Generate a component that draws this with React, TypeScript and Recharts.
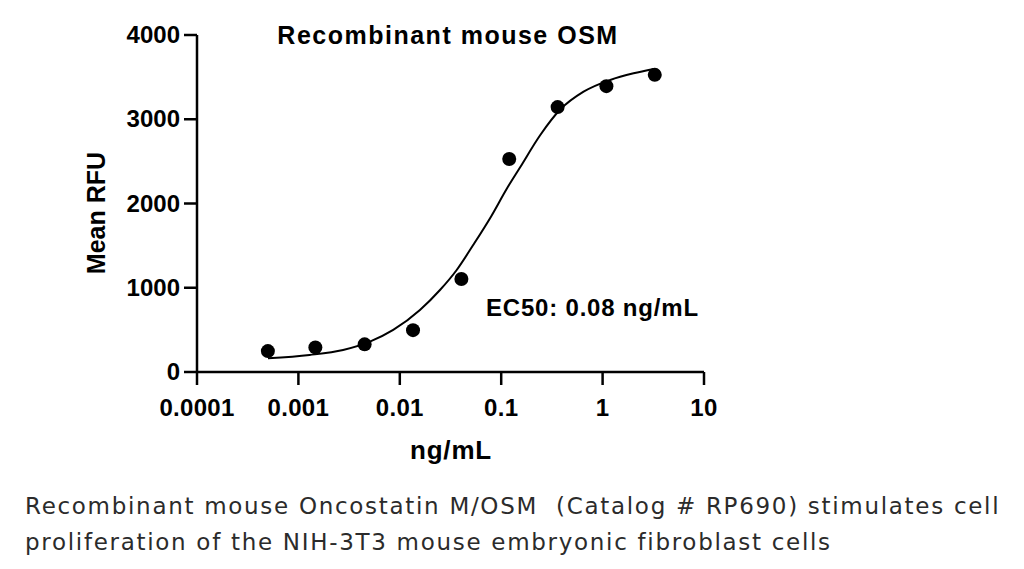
import { ComposedChart, Line, Scatter, XAxis, YAxis } from "recharts";

// measured points (ng/mL vs mean RFU)
const doses = [0.0005, 0.00147, 0.0045, 0.0135, 0.0405, 0.12, 0.36, 1.09, 3.27];
const meanRfu = [248, 292, 328, 497, 1104, 2529, 3144, 3393, 3527];

// fitted curve
const fitDoses = [
  0.000501, 0.00129, 0.00276, 0.00507, 0.00861, 0.0158, 0.0249, 0.0364, 0.0531,
  0.0798, 0.1135, 0.1538, 0.242, 0.382, 0.649, 1.19, 2.02, 3.19,
];
const fitRfu = [
  163, 202, 261, 360, 499, 736, 973, 1211, 1510, 1850, 2175, 2430, 2810, 3115,
  3327, 3466, 3545, 3596,
];

const xTicks = [0.0001, 0.001, 0.01, 0.1, 1, 10];
const xTickLabels = ["0.0001", "0.001", "0.01", "0.1", "1", "10"];
const yTicks = [0, 1000, 2000, 3000, 4000];

const points = doses.map((x, i) => ({ x, y: meanRfu[i] }));
const curve = fitDoses.map((x, i) => ({ x, y: fitRfu[i] }));

const FONT = "'Liberation Sans', Arial, sans-serif";

function Dot(props: any) {
  return <circle cx={props.cx} cy={props.cy} r={7} fill="#000" />;
}

function XTick({ x, y, payload }: any) {
  const i = xTicks.indexOf(payload.value);
  return (
    <text x={x} y={y + 27} textAnchor="middle" fontSize={24} fontWeight={700} letterSpacing={0.3} fill="#000" fontFamily={FONT}>
      {i >= 0 ? xTickLabels[i] : String(payload.value)}
    </text>
  );
}

function YTick({ x, y, payload }: any) {
  return (
    <text x={x} y={y + 8} textAnchor="end" fontSize={24} fontWeight={700} fill="#000" fontFamily={FONT}>
      {payload.value}
    </text>
  );
}

export default function App() {
  const axisStyle = { stroke: "#000", strokeWidth: 2.5 };
  return (
    <div style={{ position: "absolute", left: 0, top: 0, width: 1024, height: 569, background: "#fff" }}>
      <ComposedChart width={1024} height={470} margin={{ top: 35, right: 320, bottom: 28, left: 0 }}>
        <XAxis
          type="number"
          dataKey="x"
          scale="log"
          domain={[0.0001, 10]}
          ticks={xTicks}
          allowDataOverflow
          height={70}
          axisLine={axisStyle}
          tickLine={axisStyle}
          tickSize={13}
          tickMargin={4}
          tick={<XTick />}
        />
        <YAxis
          type="number"
          dataKey="y"
          domain={[0, 4000]}
          ticks={yTicks}
          width={197}
          axisLine={axisStyle}
          tickLine={axisStyle}
          tickSize={13}
          tickMargin={4}
          tick={<YTick />}
        />
        <Line
          data={curve}
          dataKey="y"
          type="monotone"
          stroke="#000"
          strokeWidth={2}
          dot={false}
          activeDot={false}
          isAnimationActive={false}
        />
        <Scatter data={points} dataKey="y" fill="#000" shape={<Dot />} isAnimationActive={false} />
        <text x={448} y={44} textAnchor="middle" fontSize={25} fontWeight={700} letterSpacing={1.5} fontFamily={FONT}>
          Recombinant mouse OSM
        </text>
        <text x={486} y={316} fontSize={24} fontWeight={700} letterSpacing={0.8} fontFamily={FONT}>
          EC50: 0.08 ng/mL
        </text>
        <text x={451} y={459} textAnchor="middle" fontSize={26} fontWeight={700} letterSpacing={0.8} fontFamily={FONT}>
          ng/mL
        </text>
        <text
          x={105}
          y={213}
          textAnchor="middle"
          fontSize={25}
          fontWeight={700}
          fontFamily={FONT}
          transform="rotate(-90 105 213)"
        >
          Mean RFU
        </text>
      </ComposedChart>
      <div
        style={{
          position: "absolute",
          left: 25,
          top: 488,
          fontFamily: "'DejaVu Sans', sans-serif",
          fontSize: 23,
          letterSpacing: 1.7,
          lineHeight: "36px",
          color: "#2b2b2b",
          whiteSpace: "pre",
        }}
      >
        <div>Recombinant mouse Oncostatin M/OSM  (Catalog # RP690) stimulates cell</div>
        <div>proliferation of the NIH-3T3 mouse embryonic fibroblast cells</div>
      </div>
    </div>
  );
}
